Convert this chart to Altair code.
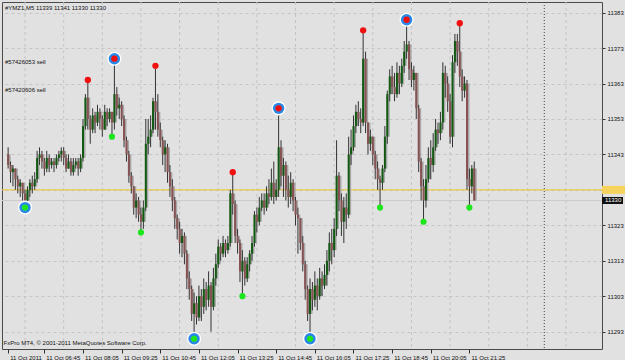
import altair as alt
import pandas as pd

FONT = "Liberation Sans, Arial"
FS = 6

symbol = "#YMZ1,M5"
opens = [11343,11340,11338,11339,11336,11334,11335,11332,11330,11333,
         11335,11334,11336,11342,11343,11341,11339,11342,11340,11341,
         11340,11342,11343,11344,11342,11339,11341,11338,11340,11341,
         11339,11342,11351,11359,11353,11350,11354,11352,11355,11353,
         11350,11355,11353,11355,11352,11360,11356,11357,11353,11347,
         11343,11337,11334,11328,11330,11326,11324,11328,11346,11348,
         11350,11358,11355,11350,11347,11343,11345,11338,11334,11330,
         11325,11322,11318,11320,11315,11308,11305,11298,11301,11297,
         11303,11300,11305,11302,11306,11300,11308,11312,11317,11315,
         11318,11316,11318,11332,11329,11320,11318,11310,11313,11308,
         11312,11315,11318,11326,11324,11328,11330,11328,11332,11331,
         11335,11331,11333,11345,11337,11340,11333,11331,11335,11330,
         11326,11325,11318,11312,11305,11298,11305,11302,11306,11303,
         11308,11306,11309,11313,11318,11316,11322,11337,11330,11324,
         11328,11326,11343,11345,11351,11355,11353,11352,11370,11352,
         11346,11348,11343,11339,11336,11335,11339,11348,11360,11365,
         11362,11360,11366,11363,11368,11372,11374,11367,11364,11366,
         11356,11341,11334,11330,11336,11342,11340,11345,11350,11349,
         11352,11366,11363,11358,11348,11369,11375,11372,11365,11361,
         11363,11336,11334,11339]
highs = [11345,11341,11340,11339,11337,11336,11335,11333,11334,11336,
         11337,11338,11344,11345,11344,11342,11344,11343,11342,11342,
         11343,11344,11345,11345,11343,11343,11342,11342,11342,11342,
         11343,11353,11360,11364,11354,11356,11355,11357,11356,11354,
         11357,11356,11356,11355,11370,11362,11359,11358,11354,11348,
         11344,11338,11334,11332,11331,11328,11330,11353,11353,11354,
         11359,11368,11360,11352,11348,11347,11346,11340,11336,11331,
         11326,11324,11322,11321,11316,11310,11306,11304,11303,11306,
         11305,11308,11307,11310,11307,11311,11315,11319,11318,11320,
         11319,11320,11333,11338,11330,11322,11319,11316,11314,11314,
         11316,11320,11327,11328,11331,11332,11332,11334,11336,11339,
         11341,11336,11356,11347,11342,11341,11337,11338,11336,11331,
         11328,11325,11320,11313,11306,11308,11307,11310,11308,11311,
         11310,11312,11316,11321,11322,11325,11347,11338,11332,11331,
         11332,11348,11350,11354,11357,11358,11356,11378,11372,11352,
         11350,11348,11344,11341,11337,11340,11351,11361,11367,11368,
         11366,11369,11368,11370,11375,11381,11375,11369,11368,11366,
         11357,11342,11336,11340,11345,11347,11349,11353,11352,11355,
         11369,11368,11365,11360,11371,11377,11377,11380,11367,11365,
         11364,11339,11340,11341]
lows = [11339,11335,11334,11333,11332,11331,11330,11328,11329,11331,
        11332,11333,11335,11340,11339,11337,11338,11338,11339,11338,
        11339,11341,11341,11340,11338,11339,11337,11337,11339,11337,
        11338,11341,11350,11350,11346,11349,11349,11351,11350,11348,
        11350,11351,11352,11348,11350,11354,11353,11351,11345,11341,
        11335,11332,11326,11325,11324,11321,11322,11327,11343,11345,
        11349,11350,11348,11345,11340,11338,11335,11331,11327,11322,
        11319,11315,11314,11312,11305,11302,11296,11291,11295,11296,
        11296,11298,11299,11300,11293,11299,11306,11311,11313,11314,
        11314,11315,11317,11326,11318,11315,11307,11303,11306,11307,
        11310,11313,11317,11321,11323,11327,11326,11327,11329,11330,
        11329,11330,11331,11334,11331,11330,11328,11329,11327,11323,
        11315,11316,11310,11302,11296,11291,11299,11300,11299,11302,
        11303,11305,11306,11310,11312,11314,11320,11327,11320,11318,
        11322,11325,11340,11344,11349,11351,11349,11351,11349,11343,
        11344,11340,11336,11333,11328,11333,11338,11346,11358,11360,
        11358,11359,11360,11362,11366,11370,11364,11362,11361,11353,
        11338,11330,11324,11328,11335,11336,11338,11344,11346,11347,
        11350,11359,11355,11346,11345,11366,11368,11362,11358,11359,
        11333,11328,11332,11330]
closes = [11340,11338,11339,11336,11334,11335,11332,11330,11333,11335,
          11334,11336,11342,11343,11341,11339,11342,11340,11341,11340,
          11342,11343,11344,11342,11339,11341,11338,11340,11341,11339,
          11342,11351,11359,11353,11350,11354,11352,11355,11353,11350,
          11355,11353,11355,11352,11360,11356,11357,11353,11347,11343,
          11337,11334,11328,11330,11326,11324,11328,11346,11348,11350,
          11358,11355,11350,11347,11343,11345,11338,11334,11330,11325,
          11322,11318,11320,11315,11308,11305,11298,11301,11297,11303,
          11300,11305,11302,11306,11300,11308,11312,11317,11315,11318,
          11316,11318,11332,11329,11320,11318,11310,11313,11308,11312,
          11315,11318,11326,11324,11328,11330,11328,11332,11331,11335,
          11331,11333,11345,11337,11340,11333,11331,11335,11330,11326,
          11325,11318,11312,11305,11298,11305,11302,11306,11303,11308,
          11306,11309,11313,11318,11316,11322,11337,11330,11324,11328,
          11326,11343,11345,11351,11355,11353,11352,11370,11352,11346,
          11348,11343,11339,11336,11335,11339,11348,11360,11365,11362,
          11360,11366,11363,11368,11372,11374,11367,11364,11366,11356,
          11341,11334,11330,11336,11342,11340,11345,11350,11349,11352,
          11366,11363,11358,11348,11369,11375,11372,11365,11361,11363,
          11336,11334,11339,11330]

sell_idx = [33, 44, 61, 93, 112, 147, 165, 187]
buy_idx = [7, 43, 55, 77, 97, 125, 154, 172, 191]
ringed_idx = [7, 44, 77, 112, 125, 165]

x_tick_idx = [0, 15, 31, 47, 63, 79, 95, 111, 127, 143, 159, 175, 191]
x_tick_labels = ["11 Oct 2011", "11 Oct 06:45", "11 Oct 08:05", "11 Oct 09:25",
                 "11 Oct 10:45", "11 Oct 12:05", "11 Oct 13:25", "11 Oct 14:45",
                 "11 Oct 16:05", "11 Oct 17:25", "11 Oct 18:45", "11 Oct 20:05",
                 "11 Oct 21:25"]
grid_v_idx = [7, 23, 39, 55, 71, 87, 103, 119, 135, 151, 167, 183, 199, 215, 231]
day_sep_idx = [222]
y_ticks = [11293, 11303, 11313, 11323, 11333, 11343, 11353, 11363, 11373, 11383]
order_labels = ["#57426053 sell", "#57420606 sell"]
yellow_level = [11333]
bid_level = [11330]
copyright_text = "FxPro MT4, \u00a9 2001-2011 MetaQuotes Software Corp."

bars = pd.DataFrame({"i": list(range(len(opens))), "o": opens, "h": highs,
                     "l": lows, "c": closes})
bars["dir"] = ["up" if c > o else "down" for o, c in zip(opens, closes)]

marks_df = pd.DataFrame(
    [{"i": k, "p": highs[k], "kind": "sell", "ring": k in ringed_idx} for k in sell_idx]
    + [{"i": k, "p": lows[k], "kind": "buy", "ring": k in ringed_idx} for k in buy_idx]
)

xs = alt.Scale(domain=[-0.47, 243.83], nice=False, zero=False)
ys = alt.Scale(domain=[11288.1, 11386.0], nice=False, zero=False)

label_array = "[" + ",".join("'" + t + "'" for t in x_tick_labels) + "]"
xaxis = alt.Axis(values=x_tick_idx, labelExpr=label_array + "[floor((datum.value+1)/16)]",
                 title=None, grid=False, domain=False, tickSize=4, tickColor="#303030",
                 labelAlign="left", labelOffset=1.5, labelPadding=1, labelFontSize=FS,
                 labelFont=FONT, labelColor="#111111", labelOverlap=False,
                 labelBound=False, labelFlush=False, orient="bottom")
yaxis = alt.Axis(values=y_ticks, format="d", labelExpr="datum.value == 11333 ? '' : datum.label",
                 orient="right", title=None, grid=True, gridColor="#c4c4c4", gridDash=[3, 3],
                 domain=False, tickSize=3, tickColor="#303030", labelPadding=2,
                 labelFontSize=FS, labelFont=FONT, labelColor="#111111",
                 labelOverlap=False, labelBound=False, labelFlush=False)

X = lambda f: alt.X(f, scale=xs, axis=xaxis)
Y = lambda f: alt.Y(f, scale=ys, axis=yaxis)

vgrid = alt.Chart(pd.DataFrame({"g": grid_v_idx})).mark_rule(
    color="#c4c4c4", strokeDash=[3, 3], strokeWidth=1).encode(x=X("g:Q"))
sep = alt.Chart(pd.DataFrame({"g": day_sep_idx})).mark_rule(
    color="#404040", strokeDash=[1, 2], strokeWidth=1).encode(x=X("g:Q"))
bidline = alt.Chart(pd.DataFrame({"v": bid_level})).mark_rule(
    color="#cbcbcb", strokeWidth=1).encode(y=Y("v:Q"))
yline = alt.Chart(pd.DataFrame({"v": yellow_level})).mark_rule(
    color="#f0c528", strokeWidth=1).encode(y=Y("v:Q"))

base = alt.Chart(bars)
shadow = base.mark_bar(size=2, color="#a2a2a2", opacity=0.9, xOffset=1.5).encode(
    x=X("i:Q"), y=Y("o:Q"), y2="c:Q")
wick = base.mark_rule(color="#333333", strokeWidth=1).encode(
    x=X("i:Q"), y=Y("l:Q"), y2="h:Q")
body = base.mark_bar(size=2).encode(
    x=X("i:Q"), y=Y("o:Q"), y2="c:Q",
    color=alt.Color("dir:N", scale=alt.Scale(domain=["up", "down"],
                                              range=["#125a12", "#885252"]), legend=None))

mk = alt.Chart(marks_df)
ring_white = mk.transform_filter("datum.ring").mark_circle(
    size=200, color="#ffffff", opacity=1).encode(x=X("i:Q"), y=Y("p:Q"))
ring_blue = mk.transform_filter("datum.ring").mark_circle(
    size=130, color="#2a88e6", opacity=1).encode(x=X("i:Q"), y=Y("p:Q"))
red_dots = mk.transform_filter("datum.kind == 'sell'").mark_circle(
    size=40, color="#f01010", opacity=1).encode(x=X("i:Q"), y=Y("p:Q"))
green_dots = mk.transform_filter("datum.kind == 'buy'").mark_circle(
    size=38, color="#1ee61e", opacity=1).encode(x=X("i:Q"), y=Y("p:Q"))

def label(text, x, y, color="#111111"):
    return alt.Chart(pd.DataFrame({"t": [text]})).mark_text(
        align="left", baseline="middle", font=FONT, fontSize=FS, color=color).encode(
        x=alt.value(x), y=alt.value(y), text="t:N")

header = f"{symbol}  {opens[-1]} {highs[-1]} {lows[-1]} {closes[-1]}"
texts = [label(header, 3, 6), label(order_labels[0], 3, 60),
         label(order_labels[1], 3, 88), label(copyright_text, 1.5, 341)]

ybox = alt.Chart(pd.DataFrame({"v": yellow_level})).mark_tick(
    orient="horizontal", size=23, thickness=8, color="#f6d35c", opacity=1).encode(
    x=alt.value(611.5), y=Y("v:Q"))
bbox = alt.Chart(pd.DataFrame({"v": bid_level})).mark_tick(
    orient="horizontal", size=21, thickness=7, color="#111111", opacity=1).encode(
    x=alt.value(610.5), y=Y("v:Q"))
btxt = alt.Chart(pd.DataFrame({"v": bid_level})).mark_text(
    align="left", baseline="middle", font=FONT, fontSize=FS, color="#ffffff").encode(
    x=alt.value(603), y=Y("v:Q"), text=alt.Text("v:Q", format="d"))

chart = alt.layer(
    vgrid, sep, bidline, yline, shadow, wick, body,
    ring_white, ring_blue, red_dots, green_dots,
    *texts, ybox, bbox, btxt
).properties(
    width=600, height=347, background="#e1e1e1",
    padding={"left": 2, "top": 2, "right": 23, "bottom": 11},
    autosize=alt.AutoSizeParams(type="none"),
).configure_view(stroke="#4a4a4a", strokeWidth=1, fill="#e1e1e1")

chart.save("out.html", embed_options={"renderer": "svg", "actions": False})
